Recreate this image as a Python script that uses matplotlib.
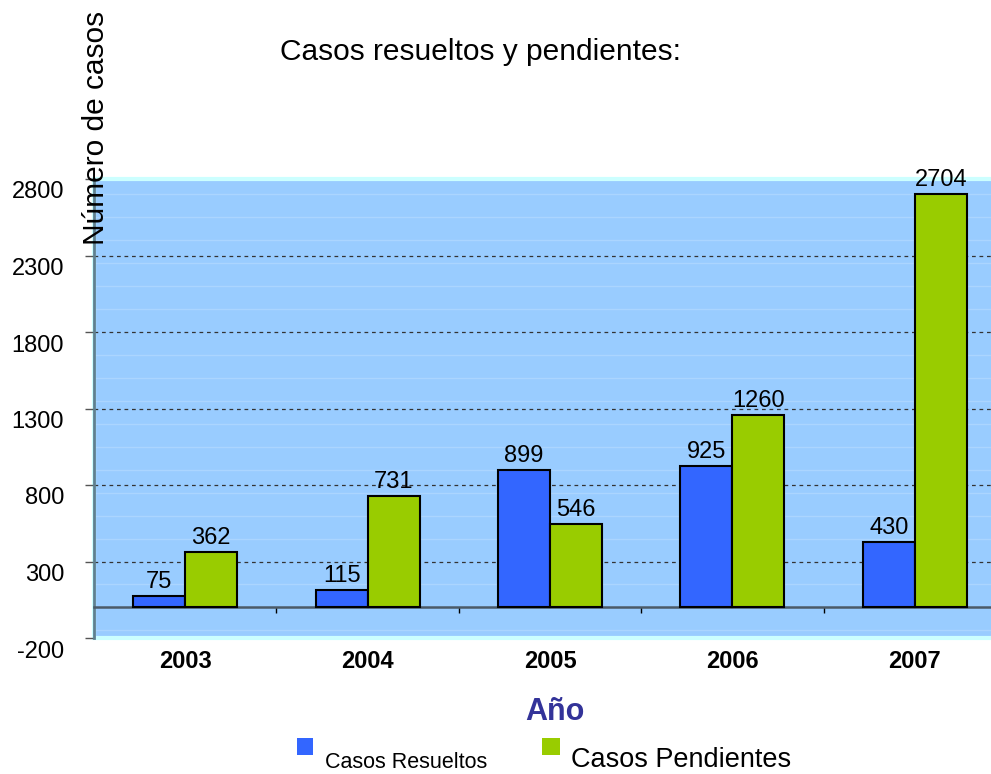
import matplotlib
matplotlib.use('Agg')
import matplotlib.pyplot as plt
from matplotlib.ticker import MultipleLocator
from matplotlib.transforms import ScaledTranslation
from matplotlib.patches import Rectangle
import numpy as np

# ---- data ----
years = ['2003', '2004', '2005', '2006', '2007']
resueltos = [75, 115, 899, 925, 430]
pendientes = [362, 731, 546, 1260, 2704]
yticks = [-200, 300, 800, 1300, 1800, 2300, 2800]
series_names = ['Casos Resueltos', 'Casos Pendientes']
title = 'Casos resueltos y pendientes:'
ylabel = 'Número de casos'
xlabel = 'Año'

plt.rcParams['font.family'] = ['Liberation Sans', 'DejaVu Sans']
plt.rcParams['axes.unicode_minus'] = False

W, H = 991, 774
fig = plt.figure(figsize=(W / 100, H / 100), dpi=100)
ax = fig.add_axes([94 / W, 1 - 638 / H, 912 / W, 459 / H])
ax.set_xlim(-0.5, len(years) - 0.5)
ax.set_ylim(yticks[0], yticks[-1])
ax.set_facecolor('#99CCFF')
ax.patch.set_edgecolor('#CCFFFF')
ax.patch.set_linewidth(3)
ax.set_axisbelow(True)

x = np.arange(len(years))
w = 0.285
b1 = ax.bar(x - w / 2, resueltos, w, color='#3366FF', edgecolor='black', linewidth=1.5, zorder=3)
b2 = ax.bar(x + w / 2, pendientes, w, color='#99CC00', edgecolor='black', linewidth=1.5, zorder=3)
ax.bar_label(b1, padding=2, fontsize=17)
ax.bar_label(b2, padding=2, fontsize=17)

# spines
for s in ['top', 'right']:
    ax.spines[s].set_visible(False)
ax.spines['left'].set_color('#5F7F8F')
ax.spines['left'].set_linewidth(2)
ax.spines['bottom'].set_position(('data', 0))
ax.spines['bottom'].set_color('#4A5A68')
ax.spines['bottom'].set_linewidth(1.8)
ax.spines['bottom'].set_zorder(2.6)

# x ticks
ax.set_xticks(x, years, fontweight='bold', fontsize=17)
ax.set_xticks(x[:-1] + 0.5, minor=True)
ax.tick_params(axis='x', which='major', length=0, pad=31)
ax.tick_params(axis='x', which='minor', length=4, width=1, color='black', direction='out')

# y ticks
ax.set_yticks(yticks)
ax.tick_params(axis='y', which='major', length=6.5, width=1, color='#555555', pad=15, labelsize=17)
ax.yaxis.set_minor_locator(MultipleLocator(150))
ax.tick_params(axis='y', which='minor', length=0)
off = ScaledTranslation(0, -11 / 100, fig.dpi_scale_trans)
for lbl in ax.get_yticklabels():
    lbl.set_transform(lbl.get_transform() + off)

ax.yaxis.grid(True, which='major', linestyle=(0, (3, 3)), color='#333333', linewidth=0.9)
ax.yaxis.grid(True, which='minor', color='white', alpha=0.18, linewidth=1)
gls = ax.get_ygridlines()
gls[0].set_visible(False)
gls[-1].set_visible(False)

# texts
fig.text(480 / W, 1 - 52 / H, title, ha='center', va='center', fontsize=21.5)
fig.text(96 / W, 1 - 128 / H, ylabel, rotation=90, ha='center', va='center', fontsize=21.5)
fig.text(555 / W, 1 - 712 / H, xlabel, ha='center', va='center', fontsize=22,
         fontweight='bold', color='#333399')

# legend (manual)
leg = [(b1, 297, 738, 16, 17, 325, 768, 15.5),
       (b2, 542, 738, 18, 17, 571, 767, 19.5)]
for (bars, lx, ly, lw, lh, tx, ty, fs), name in zip(leg, series_names):
    fig.patches.append(Rectangle((lx / W, 1 - (ly + lh) / H), lw / W, lh / H,
                                 transform=fig.transFigure,
                                 facecolor=bars.patches[0].get_facecolor(), edgecolor='none'))
    fig.text(tx / W, 1 - ty / H, name, ha='left', va='baseline', fontsize=fs)

fig.savefig('out.png', dpi=100)
